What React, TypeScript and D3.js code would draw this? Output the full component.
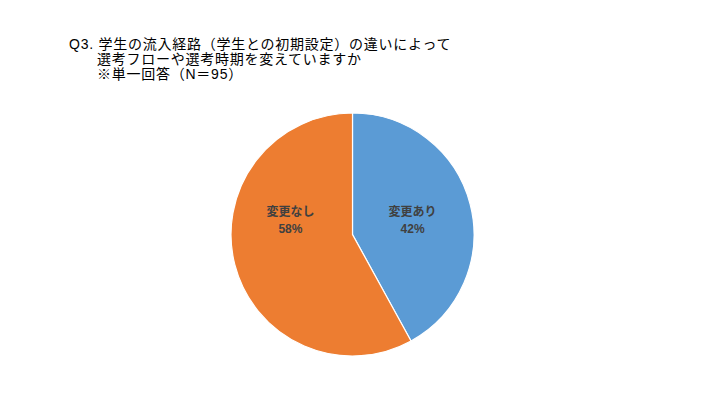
import React from 'react';
import * as d3 from 'd3';

const categories = ['変更あり', '変更なし'];
const values = [42, 58];
const colors = ['#5B9BD5', '#ED7D31'];
const titleLines = [
  'Q3. 学生の流入経路（学生との初期設定）の違いによって',
  '選考フローや選考時期を変えていますか',
  '※単一回答（N＝95）',
];

const W = 701;
const H = 394;
const cx = 352.5;
const cy = 234.5;
const radius = 121.5;

export default function App() {
  const pie = d3.pie<number>().value((d) => d).sort(null);
  const arcs = pie(values);
  const arc = d3.arc<d3.PieArcDatum<number>>().innerRadius(0).outerRadius(radius);
  const labelArc = d3.arc<d3.PieArcDatum<number>>().innerRadius(124).outerRadius(0);

  // Excel's best-fit put both labels in the upper half: mirror the first slice's label
  const first = labelArc.centroid(arcs[0]);
  const labelPos = arcs.map((a, i) => (i === 0 ? first : [-first[0] - 2, first[1]]));

  return (
    <div style={{ margin: -8 }}>
      <svg width={W} height={H} style={{ display: 'block', background: '#fff' }}
        fontFamily="'Liberation Sans', 'Noto Sans CJK JP', sans-serif">
        {titleLines.map((t, i) => (
          <text key={i} x={i === 0 ? 69 : 97} y={48.5 + i * 15} fontSize={14}
            letterSpacing={0.75} fill="#000">
            {t}
          </text>
        ))}
        <g transform={`translate(${cx},${cy})`}>
          {arcs.map((a, i) => (
            <path key={i} d={arc(a) || ''} fill={colors[i]} stroke="#fff" strokeWidth={1.2} />
          ))}
          {arcs.map((a, i) => (
            <text key={'l' + i} transform={`translate(${labelPos[i][0]},${labelPos[i][1]})`}
              textAnchor="middle" fontSize={12} fontWeight="bold" fill="#404040">
              <tspan x={0} dy={-3}>{categories[i]}</tspan>
              <tspan x={0} dy={17}>{values[i]}%</tspan>
            </text>
          ))}
        </g>
      </svg>
    </div>
  );
}
